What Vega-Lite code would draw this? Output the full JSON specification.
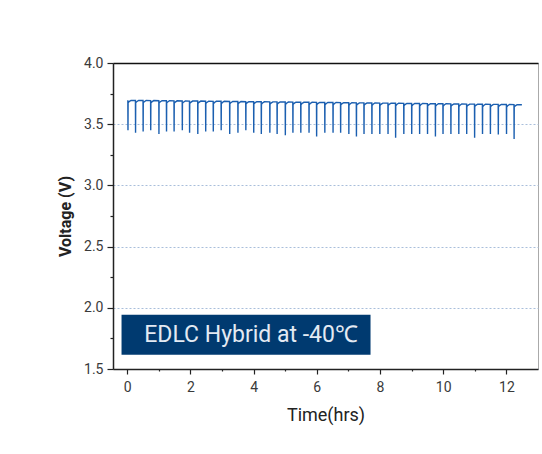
{
  "$schema": "https://vega.github.io/schema/vega-lite/v6.json",
  "width": 425,
  "height": 306,
  "autosize": {"type": "none"},
  "padding": {"left": 113, "top": 63, "right": 4, "bottom": 85},
  "background": "white",
  "config": {
    "font": "Roboto",
    "view": {"stroke": "#aaaaaa", "strokeWidth": 1},
    "axis": {
      "labelFont": "Roboto",
      "titleFont": "Roboto",
      "labelColor": "#3a3a3a",
      "titleColor": "#222222",
      "labelFontSize": 14,
      "domainColor": "#222222",
      "domainWidth": 1.5,
      "tickColor": "#222222",
      "tickWidth": 1.2
    }
  },
  "layer": [
    {
      "data": {"values": [
        {"t":0.02,"v":3.695},{"t":0.024,"v":3.45},{"t":0.028,"v":3.675},{"t":0.06,"v":3.685},{"t":0.12,"v":3.695},
        {"t":0.26,"v":3.694},{"t":0.264,"v":3.43},{"t":0.268,"v":3.674},{"t":0.30,"v":3.684},{"t":0.36,"v":3.694},
        {"t":0.50,"v":3.694},{"t":0.504,"v":3.44},{"t":0.508,"v":3.674},{"t":0.54,"v":3.684},{"t":0.60,"v":3.694},
        {"t":0.74,"v":3.693},{"t":0.744,"v":3.45},{"t":0.748,"v":3.673},{"t":0.78,"v":3.683},{"t":0.84,"v":3.693},
        {"t":1.00,"v":3.692},{"t":1.004,"v":3.42},{"t":1.008,"v":3.672},{"t":1.04,"v":3.682},{"t":1.10,"v":3.692},
        {"t":1.24,"v":3.692},{"t":1.244,"v":3.44},{"t":1.248,"v":3.672},{"t":1.28,"v":3.682},{"t":1.34,"v":3.692},
        {"t":1.48,"v":3.691},{"t":1.484,"v":3.44},{"t":1.488,"v":3.671},{"t":1.52,"v":3.681},{"t":1.58,"v":3.691},
        {"t":1.74,"v":3.690},{"t":1.744,"v":3.45},{"t":1.748,"v":3.670},{"t":1.78,"v":3.680},{"t":1.84,"v":3.690},
        {"t":1.97,"v":3.689},{"t":1.974,"v":3.43},{"t":1.978,"v":3.669},{"t":2.01,"v":3.679},{"t":2.07,"v":3.689},
        {"t":2.23,"v":3.689},{"t":2.234,"v":3.42},{"t":2.238,"v":3.669},{"t":2.27,"v":3.679},{"t":2.33,"v":3.689},
        {"t":2.48,"v":3.688},{"t":2.484,"v":3.44},{"t":2.488,"v":3.668},{"t":2.52,"v":3.678},{"t":2.58,"v":3.688},
        {"t":2.72,"v":3.687},{"t":2.724,"v":3.44},{"t":2.728,"v":3.667},{"t":2.76,"v":3.677},{"t":2.82,"v":3.687},
        {"t":2.97,"v":3.687},{"t":2.974,"v":3.45},{"t":2.978,"v":3.667},{"t":3.01,"v":3.677},{"t":3.07,"v":3.687},
        {"t":3.24,"v":3.686},{"t":3.244,"v":3.42},{"t":3.248,"v":3.666},{"t":3.28,"v":3.676},{"t":3.34,"v":3.686},
        {"t":3.50,"v":3.685},{"t":3.504,"v":3.43},{"t":3.508,"v":3.665},{"t":3.54,"v":3.675},{"t":3.60,"v":3.685},
        {"t":3.75,"v":3.684},{"t":3.754,"v":3.45},{"t":3.758,"v":3.664},{"t":3.79,"v":3.674},{"t":3.85,"v":3.684},
        {"t":4.00,"v":3.684},{"t":4.004,"v":3.43},{"t":4.008,"v":3.664},{"t":4.04,"v":3.674},{"t":4.10,"v":3.684},
        {"t":4.24,"v":3.683},{"t":4.244,"v":3.42},{"t":4.248,"v":3.663},{"t":4.28,"v":3.673},{"t":4.34,"v":3.683},
        {"t":4.51,"v":3.682},{"t":4.514,"v":3.43},{"t":4.518,"v":3.662},{"t":4.55,"v":3.672},{"t":4.61,"v":3.682},
        {"t":4.74,"v":3.682},{"t":4.744,"v":3.42},{"t":4.748,"v":3.662},{"t":4.78,"v":3.672},{"t":4.84,"v":3.682},
        {"t":5.00,"v":3.681},{"t":5.004,"v":3.41},{"t":5.008,"v":3.661},{"t":5.04,"v":3.671},{"t":5.10,"v":3.681},
        {"t":5.24,"v":3.680},{"t":5.244,"v":3.43},{"t":5.248,"v":3.660},{"t":5.28,"v":3.670},{"t":5.34,"v":3.680},
        {"t":5.49,"v":3.679},{"t":5.494,"v":3.43},{"t":5.498,"v":3.659},{"t":5.53,"v":3.669},{"t":5.59,"v":3.679},
        {"t":5.75,"v":3.679},{"t":5.754,"v":3.43},{"t":5.758,"v":3.659},{"t":5.79,"v":3.669},{"t":5.85,"v":3.679},
        {"t":5.99,"v":3.678},{"t":5.994,"v":3.40},{"t":5.998,"v":3.658},{"t":6.03,"v":3.668},{"t":6.09,"v":3.678},
        {"t":6.25,"v":3.677},{"t":6.254,"v":3.43},{"t":6.258,"v":3.657},{"t":6.29,"v":3.667},{"t":6.35,"v":3.677},
        {"t":6.51,"v":3.677},{"t":6.514,"v":3.43},{"t":6.518,"v":3.657},{"t":6.55,"v":3.667},{"t":6.61,"v":3.677},
        {"t":6.75,"v":3.676},{"t":6.754,"v":3.43},{"t":6.758,"v":3.656},{"t":6.79,"v":3.666},{"t":6.85,"v":3.676},
        {"t":7.01,"v":3.675},{"t":7.014,"v":3.42},{"t":7.018,"v":3.655},{"t":7.05,"v":3.665},{"t":7.11,"v":3.675},
        {"t":7.25,"v":3.674},{"t":7.254,"v":3.40},{"t":7.258,"v":3.654},{"t":7.29,"v":3.664},{"t":7.35,"v":3.674},
        {"t":7.49,"v":3.674},{"t":7.494,"v":3.42},{"t":7.498,"v":3.654},{"t":7.53,"v":3.664},{"t":7.59,"v":3.674},
        {"t":7.74,"v":3.673},{"t":7.744,"v":3.42},{"t":7.748,"v":3.653},{"t":7.78,"v":3.663},{"t":7.84,"v":3.673},
        {"t":7.99,"v":3.672},{"t":7.994,"v":3.42},{"t":7.998,"v":3.652},{"t":8.03,"v":3.662},{"t":8.09,"v":3.672},
        {"t":8.25,"v":3.672},{"t":8.254,"v":3.42},{"t":8.258,"v":3.652},{"t":8.29,"v":3.662},{"t":8.35,"v":3.672},
        {"t":8.49,"v":3.671},{"t":8.494,"v":3.39},{"t":8.498,"v":3.651},{"t":8.53,"v":3.661},{"t":8.59,"v":3.671},
        {"t":8.75,"v":3.670},{"t":8.754,"v":3.42},{"t":8.758,"v":3.650},{"t":8.79,"v":3.660},{"t":8.85,"v":3.670},
        {"t":9.00,"v":3.669},{"t":9.004,"v":3.42},{"t":9.008,"v":3.649},{"t":9.04,"v":3.659},{"t":9.10,"v":3.669},
        {"t":9.25,"v":3.669},{"t":9.254,"v":3.42},{"t":9.258,"v":3.649},{"t":9.29,"v":3.659},{"t":9.35,"v":3.669},
        {"t":9.50,"v":3.668},{"t":9.504,"v":3.42},{"t":9.508,"v":3.648},{"t":9.54,"v":3.658},{"t":9.60,"v":3.668},
        {"t":9.75,"v":3.667},{"t":9.754,"v":3.40},{"t":9.758,"v":3.647},{"t":9.79,"v":3.657},{"t":9.85,"v":3.667},
        {"t":9.99,"v":3.667},{"t":9.994,"v":3.42},{"t":9.998,"v":3.647},{"t":10.03,"v":3.657},{"t":10.09,"v":3.667},
        {"t":10.24,"v":3.666},{"t":10.244,"v":3.42},{"t":10.248,"v":3.646},{"t":10.28,"v":3.656},{"t":10.34,"v":3.666},
        {"t":10.49,"v":3.665},{"t":10.494,"v":3.42},{"t":10.498,"v":3.645},{"t":10.53,"v":3.655},{"t":10.59,"v":3.665},
        {"t":10.74,"v":3.664},{"t":10.744,"v":3.42},{"t":10.748,"v":3.644},{"t":10.78,"v":3.654},{"t":10.84,"v":3.664},
        {"t":10.99,"v":3.664},{"t":10.994,"v":3.39},{"t":10.998,"v":3.644},{"t":11.03,"v":3.654},{"t":11.09,"v":3.664},
        {"t":11.24,"v":3.663},{"t":11.244,"v":3.42},{"t":11.248,"v":3.643},{"t":11.28,"v":3.653},{"t":11.34,"v":3.663},
        {"t":11.49,"v":3.662},{"t":11.494,"v":3.42},{"t":11.498,"v":3.642},{"t":11.53,"v":3.652},{"t":11.59,"v":3.662},
        {"t":11.74,"v":3.662},{"t":11.744,"v":3.415},{"t":11.748,"v":3.642},{"t":11.78,"v":3.652},{"t":11.84,"v":3.662},
        {"t":12.00,"v":3.661},{"t":12.004,"v":3.42},{"t":12.008,"v":3.641},{"t":12.04,"v":3.651},{"t":12.10,"v":3.661},
        {"t":12.24,"v":3.660},{"t":12.244,"v":3.38},{"t":12.248,"v":3.640},{"t":12.28,"v":3.650},{"t":12.34,"v":3.660},
        {"t":12.49,"v":3.659}
      ]},
      "mark": {"type": "line", "color": "#1b5fb0", "strokeWidth": 1.4},
      "encoding": {
        "x": {
          "field": "t", "type": "quantitative",
          "scale": {"domain": [-0.45, 13], "nice": false, "zero": false},
          "axis": {
            "orient": "bottom", "values": [0, 2, 4, 6, 8, 10, 12], "format": "d",
            "tickSize": 5, "labelPadding": 6, "grid": false,
            "title": "Time(hrs)", "titleFontSize": 18, "titleFontWeight": "normal", "titlePadding": 12
          }
        },
        "y": {
          "field": "v", "type": "quantitative",
          "scale": {"domain": [1.5, 4.0], "nice": false, "zero": false},
          "axis": {
            "orient": "left", "values": [1.5, 2.0, 2.5, 3.0, 3.5, 4.0], "format": ".1f",
            "tickSize": 6, "labelPadding": 4,
            "grid": true, "gridColor": "#a9bedb", "gridDash": [2, 2], "gridWidth": 1,
            "title": "Voltage (V)", "titleFontSize": 16, "titleFontWeight": "bold", "titlePadding": 10
          }
        }
      }
    },
    {
      "data": {"values": [{"label": "EDLC Hybrid at -40℃"}]},
      "mark": {"type": "rect", "color": "#003a70"},
      "encoding": {
        "x": {"datum": -0.18, "type": "quantitative", "scale": {"domain": [-0.45, 13], "nice": false, "zero": false},
          "axis": {"orient": "bottom", "values": [1, 3, 5, 7, 9, 11], "labels": false, "tickSize": 2, "domain": false, "grid": false, "title": null}},
        "x2": {"datum": 7.7},
        "y": {"datum": 1.943, "type": "quantitative", "scale": {"domain": [1.5, 4.0], "nice": false, "zero": false},
          "axis": {"orient": "left", "values": [1.75, 2.25, 2.75, 3.25, 3.75], "labels": false, "tickSize": 3, "domain": false, "grid": false, "title": null}},
        "y2": {"datum": 1.617}
      }
    },
    {
      "data": {"values": [{"label": "EDLC Hybrid at -40℃"}]},
      "mark": {"type": "text", "color": "#e3eaf3", "fontSize": 23, "font": "Roboto", "align": "center", "baseline": "middle"},
      "encoding": {
        "x": {"datum": 3.92, "type": "quantitative", "scale": {"domain": [-0.45, 13], "nice": false, "zero": false},
          "axis": {"orient": "top", "labels": false, "ticks": false, "grid": false, "domain": true, "domainColor": "#111111", "domainWidth": 1.5, "title": null}},
        "y": {"datum": 1.78, "type": "quantitative", "axis": null},
        "text": {"field": "label"}
      }
    }
  ],
  "resolve": {"axis": {"x": "independent", "y": "independent"}}
}
